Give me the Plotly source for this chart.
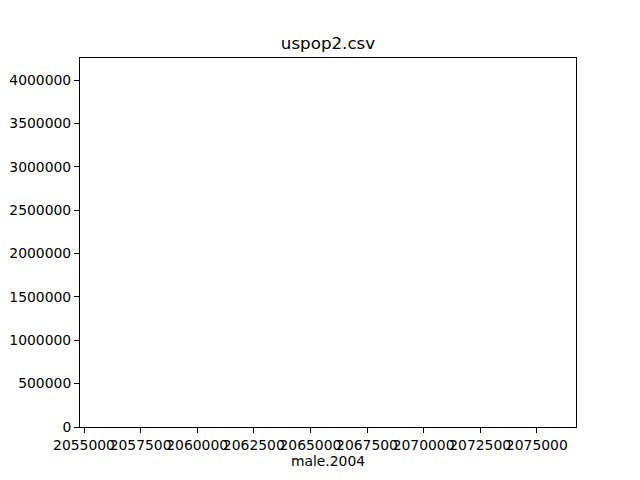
import plotly.graph_objects as go

# Data (bars are 0.8 units wide in a ~22000-unit-wide axis, so they are effectively invisible)
male_2004 = [2055819, 2063400, 2069800, 2075735]
counts = [4051000, 3985000, 4012000, 3968000]

x_ticks = [2055000, 2057500, 2060000, 2062500, 2065000, 2067500, 2070000, 2072500, 2075000]
y_ticks = [0, 500000, 1000000, 1500000, 2000000, 2500000, 3000000, 3500000, 4000000]

W, H = 640, 480
L, R, T, B = 80, 64, 58, 53

fig = go.Figure()
fig.add_trace(go.Bar(
    x=male_2004, y=counts, width=0.8,
    marker=dict(color="#1f77b4", opacity=0, line=dict(width=0)),
    showlegend=False,
))

font = dict(family="DejaVu Sans", size=13.9, color="black")
axis_common = dict(
    showline=True, linecolor="black", linewidth=1, mirror=True,
    ticks="outside", ticklen=5, tickwidth=1, tickcolor="black",
    showgrid=False, zeroline=False, tickfont=font, tickformat="d",
    automargin=False, tickangle=0,
)

fig.update_layout(
    width=W, height=H,
    margin=dict(l=L, r=R, t=T, b=B, pad=0),
    paper_bgcolor="white", plot_bgcolor="white",
    font=font,
    title=dict(text="uspop2.csv", x=(L + (W - R)) / 2 / W, xanchor="center",
               y=1 - 49 / H, yanchor="bottom", yref="container",
               font=dict(family="DejaVu Sans", size=16.7, color="black")),
    xaxis=dict(range=[2054823, 2076731], tickvals=x_ticks,
               ticktext=[str(v) for v in x_ticks],
               title=dict(text="male.2004", font=font, standoff=3), **axis_common),
    yaxis=dict(range=[0, 4253600], tickvals=y_ticks,
               ticktext=[str(v) for v in y_ticks], **axis_common),
    bargap=0,
)

fig.write_html("out.html")
